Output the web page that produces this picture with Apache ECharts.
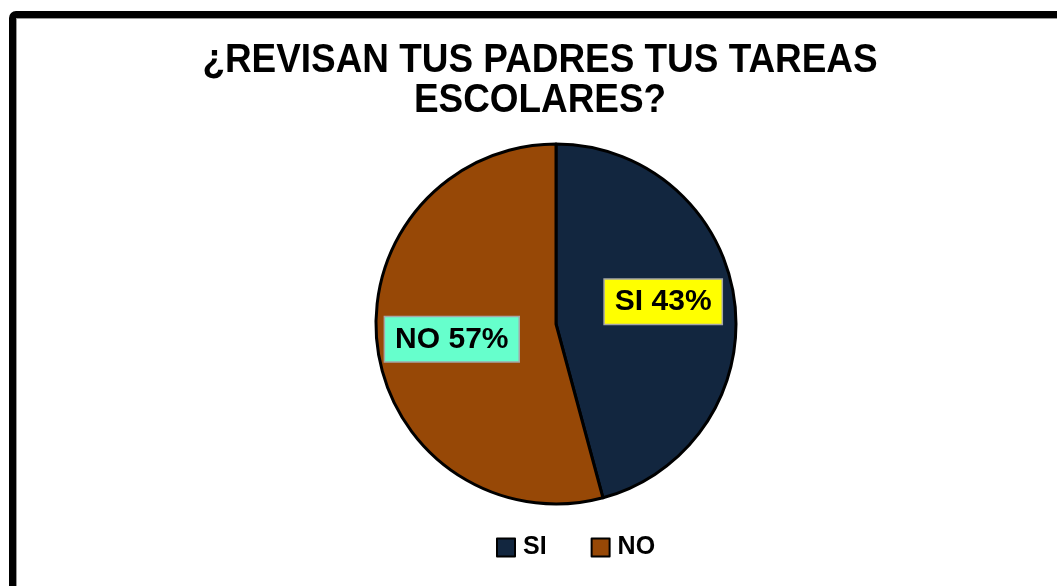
<!DOCTYPE html>
<html>
<head>
<meta charset="utf-8">
<script src="https://cdn.jsdelivr.net/npm/echarts@6/dist/echarts.min.js"></script>
<style>
  html, body { margin: 0; padding: 0; background: #fff; overflow: hidden; }
  #main { position: absolute; left: 0; top: 0; width: 1057px; height: 586px; }
  #frame {
    position: absolute; left: 9px; top: 11px; width: 1100px; height: 650px;
    border: 7px solid #000; border-radius: 7px; pointer-events: none;
    box-shadow: inset 0 0 0 1px #999;
  }
</style>
</head>
<body>
<div id="main"></div>
<div id="frame"></div>
<script>
// categorias y valores (los sectores medidos en la imagen, etiquetas tal como aparecen)
var categorias = ['SI', 'NO'];
var valores = [45.8, 54.2];
var porcentajes = [43, 57];
var colores = ['#12263f', '#974806'];
var fondosEtiqueta = ['#ffff00', '#66ffcc'];

var chartDom = document.getElementById('main');
var myChart = echarts.init(chartDom);

var datos = categorias.map(function (c, i) {
  return {
    name: c,
    value: valores[i],
    itemStyle: { color: colores[i] },
    label: { backgroundColor: fondosEtiqueta[i] }
  };
});

var option = {
  animation: false,
  // titulo como texto grafico para poder estrecharlo (la fuente original es condensada)
  graphic: [
    {
      type: 'text',
      x: 540,
      y: 41,
      scaleX: 0.9,
      style: {
        text: '¿REVISAN TUS PADRES TUS TAREAS\nESCOLARES?',
        textAlign: 'center',
        textVerticalAlign: 'top',
        font: 'bold 41px "Liberation Sans", Arial, sans-serif',
        lineHeight: 40,
        fill: '#000'
      }
    }
  ],
  legend: {
    data: categorias,
    bottom: 21,
    left: 491,
    itemWidth: 18,
    itemHeight: 18,
    itemGap: 44,
    icon: 'rect',
    itemStyle: { borderColor: '#000', borderWidth: 2 },
    textStyle: {
      fontFamily: '"Liberation Sans", Arial, sans-serif',
      fontWeight: 'bold',
      fontSize: 25,
      color: '#000',
      padding: [0, 0, 0, 3]
    }
  },
  series: [
    {
      type: 'pie',
      center: [556, 324],
      radius: 180,
      startAngle: 90,
      clockwise: true,
      data: datos,
      itemStyle: { borderColor: '#000', borderWidth: 3 },
      label: {
        show: true,
        position: 'inside',
        formatter: function (p) {
          return p.name + ' ' + porcentajes[p.dataIndex] + '%';
        },
        fontFamily: '"Liberation Sans", Arial, sans-serif',
        fontWeight: 'bold',
        fontSize: 30,
        color: '#000',
        borderColor: '#a6a6a6',
        borderWidth: 1.5,
        padding: [8, 10, 6, 10]
      },
      labelLayout: function (p) {
        return p.dataIndex === 0 ? { dx: 15, dy: -10 } : { dx: -12, dy: 3 };
      },
      labelLine: { show: false },
      emphasis: { disabled: true }
    }
  ]
};

myChart.setOption(option);
</script>
</body>
</html>
